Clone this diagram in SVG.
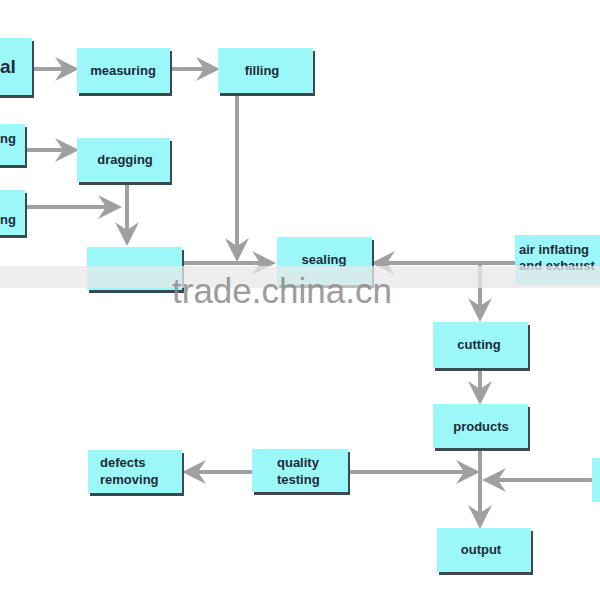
<svg xmlns="http://www.w3.org/2000/svg" width="600" height="600" viewBox="0 0 600 600">
<style>
.b{fill:#9cf8f8}.s{fill:#3a4a50}
.t{font-family:"Liberation Sans",Arial,sans-serif;font-size:13px;font-weight:bold;fill:#1c2b3a}
.c{stroke:#a0a0a0;stroke-width:4;fill:none}
</style>
<defs>
<marker id="m" viewBox="0 0 12 12" refX="10" refY="6" markerWidth="6" markerHeight="6" orient="auto"><path d="M0,0 L12,6 L0,12 L4,6 Z" fill="#a0a0a0"/></marker>
</defs>
<rect width="600" height="600" fill="#fff"/>
<g id="connectors" class="c" marker-end="url(#m)">
<path d="M32,69H75"/><path d="M170,69H216"/><path d="M237,93V258"/>
<path d="M25,150H75"/><path d="M25,207H118"/><path d="M127,182V242"/>
<path d="M182,263H272"/><path d="M515,263H375"/><path d="M480,263V318"/>
<path d="M480,368V401"/><path d="M480,448V525"/>
<path d="M348,472H476"/><path d="M592,480H486"/><path d="M252,472H186"/>
</g>
<g id="n1"><rect class="s" x="-3" y="41" width="37" height="57"/><rect class="b" x="-5" y="38" width="37" height="57"/><text class="t" x="0" y="73" style="font-size:19px">al</text></g>
<g id="n2"><rect class="s" x="79" y="51" width="93" height="45"/><rect class="b" x="77" y="48" width="93" height="45"/><text class="t" x="123" y="75" text-anchor="middle">measuring</text></g>
<g id="n3"><rect class="s" x="220" y="51" width="95" height="45"/><rect class="b" x="218" y="48" width="95" height="45"/><text class="t" x="262" y="75" text-anchor="middle">filling</text></g>
<g id="n4"><rect class="s" x="0" y="127" width="27" height="41"/><rect class="b" x="-2" y="124" width="27" height="41"/><text class="t" x="0" y="143">ng</text></g>
<g id="n5"><rect class="s" x="79" y="141" width="93" height="44"/><rect class="b" x="77" y="138" width="93" height="44"/><text class="t" x="125" y="164" text-anchor="middle">dragging</text></g>
<g id="n6"><rect class="s" x="0" y="193" width="27" height="45"/><rect class="b" x="-2" y="190" width="27" height="45"/><text class="t" x="0" y="224">ng</text></g>
<g id="n7"><rect class="s" x="89" y="250" width="95" height="43"/><rect class="b" x="87" y="247" width="95" height="43"/></g>
<g id="n8"><rect class="s" x="279" y="240" width="95" height="48"/><rect class="b" x="277" y="237" width="95" height="48"/><text class="t" x="324" y="264" text-anchor="middle">sealing</text></g>
<g id="n9"><rect class="b" x="515" y="235" width="90" height="50"/><text class="t" x="519" y="254">air inflating</text><text class="t" x="519" y="270">and exhaust</text></g>
<g id="n10"><rect class="s" x="435" y="325" width="95" height="46"/><rect class="b" x="433" y="322" width="95" height="46"/><text class="t" x="479" y="349" text-anchor="middle">cutting</text></g>
<g id="n11"><rect class="s" x="435" y="407" width="95" height="44"/><rect class="b" x="433" y="404" width="95" height="44"/><text class="t" x="481" y="431" text-anchor="middle">products</text></g>
<g id="n12"><rect class="s" x="254" y="452" width="96" height="43"/><rect class="b" x="252" y="449" width="96" height="43"/><text class="t" x="277" y="467">quality</text><text class="t" x="277" y="484">testing</text></g>
<g id="n13"><rect class="s" x="90" y="453" width="94" height="43"/><rect class="b" x="88" y="450" width="94" height="43"/><text class="t" x="100" y="467">defects</text><text class="t" x="100" y="484">removing</text></g>
<g id="n14"><rect class="b" x="592" y="458" width="12" height="44"/></g>
<g id="n15"><rect class="s" x="439" y="531" width="94" height="44"/><rect class="b" x="437" y="528" width="94" height="44"/><text class="t" x="481" y="554" text-anchor="middle">output</text></g>
<rect x="0" y="266" width="600" height="22" fill="#e8e8e8" opacity="0.75"/>
<text x="172" y="303" font-family="Liberation Sans,Arial,sans-serif" font-size="35" fill="#8c8c8c" opacity="0.85">trade.china.cn</text>
</svg>
